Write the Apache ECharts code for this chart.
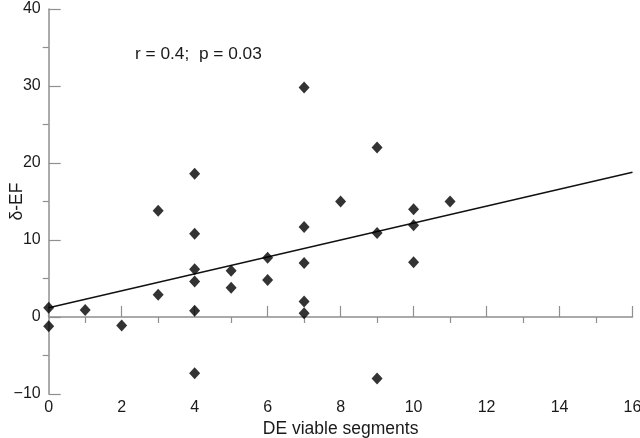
<!DOCTYPE html>
<html>
<head>
<meta charset="utf-8">
<script src="https://cdn.jsdelivr.net/npm/echarts@6/dist/echarts.min.js"></script>
<style>html,body{margin:0;padding:0;background:#fff}#c{width:640px;height:438px}</style>
</head>
<body>
<div id="c"></div>
<script>
// DE viable segments (x) and delta-EF (y)
const segX = [0, 0, 1, 2, 3, 3, 4, 4, 4, 4, 4, 4, 5, 5, 6, 6, 7, 7, 7, 7, 7, 8, 9, 9, 9, 10, 10, 10, 11];
const deltaEF = [1.2, -1.2, 0.9, -1.1, 13.8, 2.9, 18.6, 10.8, 6.2, 4.6, 0.8, -7.3, 6.0, 3.8, 7.7, 4.8, 29.8, 11.7, 7.0, 2.0, 0.5, 15.0, 22.0, 10.9, -8.0, 14.0, 11.9, 7.1, 15.0];
// regression line end points
const fitX = [0, 16];
const fitY = [1.2, 18.8];
const xTicks = [0, 2, 4, 6, 8, 10, 12, 14, 16];
const yTicks = [-10, 0, 10, 20, 30, 40];
const annotation = 'r = 0.4;  p = 0.03';

const font = "'Liberation Sans', Arial, Helvetica, sans-serif";
const chart = echarts.init(document.getElementById('c'), null, {renderer: 'canvas'});
const axisCol = '#8f8f8f';
const textCol = '#1a1a1a';
chart.setOption({
  animation: false,
  backgroundColor: '#fff',
  grid: {left: 48.7, right: 7.5, top: 9, bottom: 44, containLabel: false, outerBoundsMode: 'none'},
  xAxis: {
    type: 'value', min: xTicks[0], max: xTicks[xTicks.length - 1], interval: 2,
    name: 'DE viable segments', nameLocation: 'middle', nameGap: 26, nameMoveOverlap: false,
    nameTextStyle: {fontFamily: font, fontSize: 17.5, color: textCol},
    axisLine: {show: true, lineStyle: {color: axisCol, width: 1.5}},
    axisTick: {show: true, inside: true, length: 11, lineStyle: {color: axisCol, width: 1.2}},
    minorTick: {show: true, splitNumber: 2, length: -6, lineStyle: {color: axisCol, width: 1.2}},
    splitLine: {show: false},
    axisLabel: {fontFamily: font, fontSize: 16, color: textCol, margin: 6,
      formatter: v => String(v).replace('-', '\u2212')}
  },
  yAxis: {
    type: 'value', min: yTicks[0], max: yTicks[yTicks.length - 1], interval: 10,
    name: '\u03b4-EF', nameLocation: 'middle', nameGap: 23, nameRotate: 90, nameMoveOverlap: false,
    nameTextStyle: {fontFamily: font, fontSize: 17.5, color: textCol},
    axisLine: {show: true, lineStyle: {color: axisCol, width: 1.5}},
    axisTick: {show: true, inside: true, length: 12, lineStyle: {color: axisCol, width: 1.2}},
    minorTick: {show: true, splitNumber: 2, length: -6, lineStyle: {color: axisCol, width: 1.2}},
    splitLine: {show: false},
    axisLabel: {fontFamily: font, fontSize: 16, color: textCol, margin: 8,
      formatter: v => String(v).replace('-', '\u2212')}
  },
  series: [
    {
      type: 'line', data: fitX.map((x, i) => [x, fitY[i]]), symbol: 'none',
      lineStyle: {color: '#111', width: 1.4}, silent: true, z: 2
    },
    {
      type: 'scatter', data: segX.map((x, i) => [x, deltaEF[i]]),
      symbol: 'diamond', symbolSize: [11, 12],
      itemStyle: {color: '#000'}, z: 3
    }
  ],
  graphic: [{
    type: 'text', left: 135, top: 46,
    style: {text: annotation, fontFamily: font, fontSize: 17.3, fill: textCol}
  }]
});
</script>
</body>
</html>
